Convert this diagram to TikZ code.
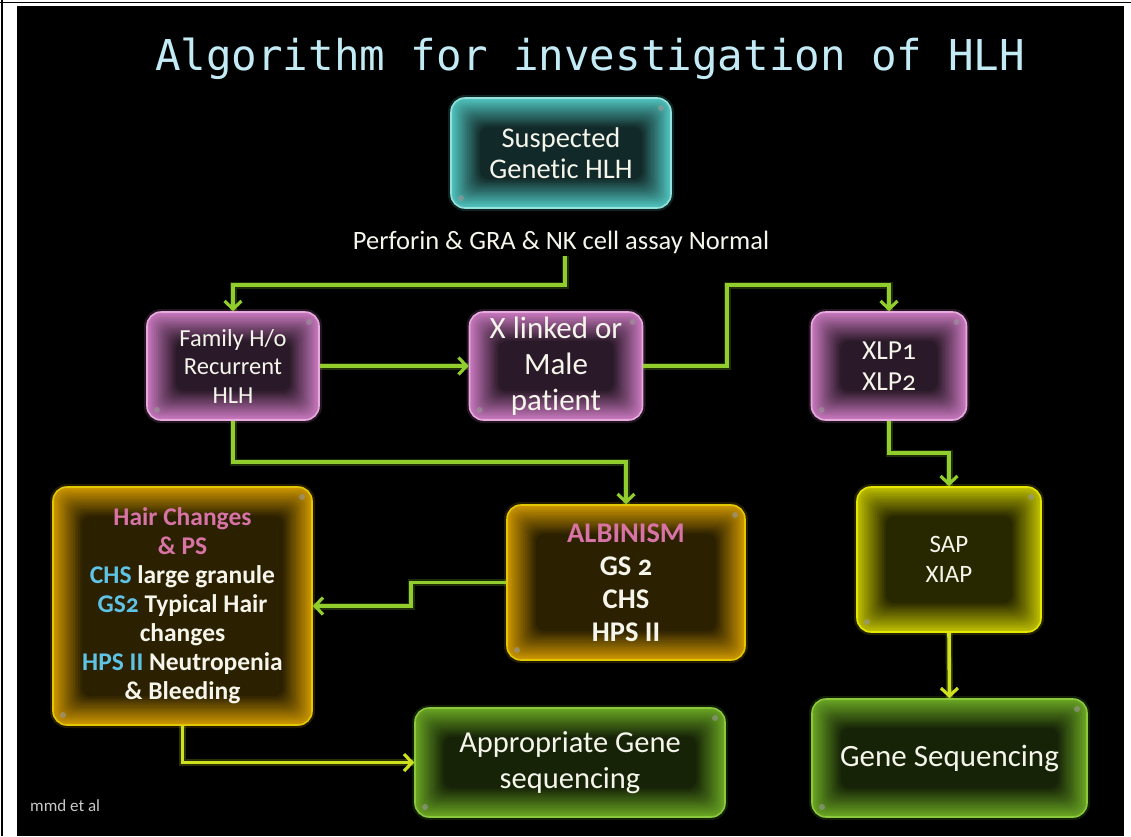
\documentclass[tikz,border=0pt]{standalone}
\usepackage{fontspec}
\setmainfont[Numbers=OldStyle,Ligatures=NoCommon]{Carlito}
\newfontfamily\titlefont{DejaVu Sans Mono}
\usetikzlibrary{arrows.meta}
\definecolor{txt}{RGB}{245,245,235}
\definecolor{titleC}{RGB}{195,235,245}
\definecolor{tealE}{RGB}{80,195,190}
\definecolor{tealB}{RGB}{150,225,220}
\definecolor{pinkE}{RGB}{200,120,190}
\definecolor{pinkB}{RGB}{230,170,220}
\definecolor{goldE}{RGB}{205,150,0}
\definecolor{goldB}{RGB}{225,200,0}
\definecolor{yelE}{RGB}{190,190,0}
\definecolor{yelB}{RGB}{230,230,0}
\definecolor{grnE}{RGB}{105,165,35}
\definecolor{grnB}{RGB}{140,200,60}
\definecolor{lineG}{RGB}{145,205,45}
\definecolor{lineY}{RGB}{205,225,30}
\definecolor{pinkT}{RGB}{215,115,165}
\definecolor{blueT}{RGB}{95,195,230}
\definecolor{credit}{RGB}{200,200,200}
\tikzset{
  bx/.style={rounded corners=14pt, fill=#1, draw=#1!55!white, line width=1.6pt,
    inner sep=0pt, align=center, text=txt,
    preaction={draw=#1, line width=6pt, opacity=0.18},
    path picture={
      \foreach \i in {1,...,16}{
        \pgfmathtruncatemacro\bxpc{100-\i*4.9}
        \fill[#1!\bxpc!black, rounded corners=9pt]
          ([shift={(\i*1.8pt,-\i*1.8pt)}]path picture bounding box.north west) rectangle
          ([shift={(-\i*1.8pt,\i*1.8pt)}]path picture bounding box.south east);
      }
      \fill[gray!80, opacity=0.6] ([shift={(-10pt,-10pt)}]path picture bounding box.north east) circle (3pt);
      \fill[gray!80, opacity=0.6] ([shift={(10pt,10pt)}]path picture bounding box.south west) circle (3pt);
    }},
  conn/.style={draw=#1, line width=3.6pt, line join=miter,
    -{Straight Barb[length=8pt,width=17pt,line width=3.2pt]},
    preaction={draw=#1, line width=7pt, opacity=0.22, arrows=-}},
  conn/.default=lineG,
  plain/.style={text=txt, inner sep=0pt}
}
\begin{document}
\begin{tikzpicture}[x=1pt,y=-1pt]
\useasboundingbox (0,0) rectangle (1131,836);
\fill[white] (0,0) rectangle (1131,836);
\fill[black] (17,6) rectangle (1124,836);
\draw[black, line width=1.5pt] (0,2.3) -- (1131,2.3);
\draw[black, line width=1.5pt] (1.8,0) -- (1.8,836);

% title
\node[anchor=base, text=titleC, inner sep=0pt, font=\titlefont\fontsize{42.5}{48}\selectfont] (title) at (590,70) {Algorithm for investigation of HLH};

% boxes
\node[bx=tealE, draw=tealB, minimum width=220pt, minimum height=110pt,
  font=\fontsize{28.5}{31}\selectfont] (sus) at (561,153) {Suspected\\Genetic HLH};
\node[plain, anchor=base, font=\fontsize{26.5}{30}\selectfont] (perf) at (561,249) {Perforin \& GRA \& NK cell assay Normal};

\node[bx=pinkE, draw=pinkB, minimum width=172pt, minimum height=108pt,
  font=\fontsize{24.5}{28.5}\selectfont] (fam) at (233,366) {Family H/o\\Recurrent\\HLH};
\node[bx=pinkE, draw=pinkB, minimum width=173pt, minimum height=108pt,
  font=\fontsize{31}{36}\selectfont] (xl) at (556,366) {\raisebox{-4pt}{X linked or}\\\raisebox{-4pt}{Male}\\\raisebox{-4pt}{patient}};
\node[bx=pinkE, draw=pinkB, minimum width=155pt, minimum height=108pt,
  font=\fontsize{27.5}{31}\selectfont] (xlp) at (889,366) {XLP1\\XLP2};

\node[bx=goldE, draw=goldB, minimum width=238pt, minimum height=155pt,
  font=\bfseries\fontsize{28.5}{33}\selectfont] (alb) at (626,582.5)
  {\textcolor{pinkT}{ALBINISM}\\GS 2\\CHS\\HPS II};
\node[bx=goldE, draw=goldB, minimum width=259pt, minimum height=238pt,
  font=\bfseries\fontsize{25.5}{29}\selectfont] (hair) at (182.5,606)
  {\textcolor{pinkT}{Hair Changes}\\\textcolor{pinkT}{\& PS}\\\textcolor{blueT}{CHS} large granule\\\textcolor{blueT}{GS2} Typical Hair\\changes\\\textcolor{blueT}{HPS II} Neutropenia\\\& Bleeding};
\node[bx=yelE, draw=yelB, minimum width=184pt, minimum height=145pt,
  font=\fontsize{25}{30}\selectfont] (sap) at (949,559.5) {SAP\\XIAP};

\node[bx=grnE, draw=grnB, minimum width=310pt, minimum height=109pt,
  font=\fontsize{30.5}{36}\selectfont] (app) at (570,762.5) {Appropriate Gene\\sequencing};
\node[bx=grnE, draw=grnB, minimum width=275pt, minimum height=118pt,
  font=\fontsize{31}{36}\selectfont] (gene) at (949.5,758) {Gene Sequencing};

\node[anchor=base west, text=credit, inner sep=0pt, font=\fontsize{17}{20}\selectfont] (credit) at (30,811) {mmd et al};

% connectors
\coordinate (p1) at (565,256);
\draw[conn] (p1) -- (565,285) -| (fam.north);
\draw[conn] (fam.east) -- (xl.west);
\draw[conn] (xl.east) -| (727,285) -| (xlp.north);
\draw[conn] (fam.south) -- (233,462) -| (alb.north);
\draw[conn] (xlp.south) -- (889,453) -| (sap.north);
\draw[conn] (alb.west) -- (411,582.5) |- (hair.east);
\draw[conn=lineY] (hair.south) |- (app.west);
\draw[conn=lineY] (sap.south) -- (gene.north);
\end{tikzpicture}
\end{document}
